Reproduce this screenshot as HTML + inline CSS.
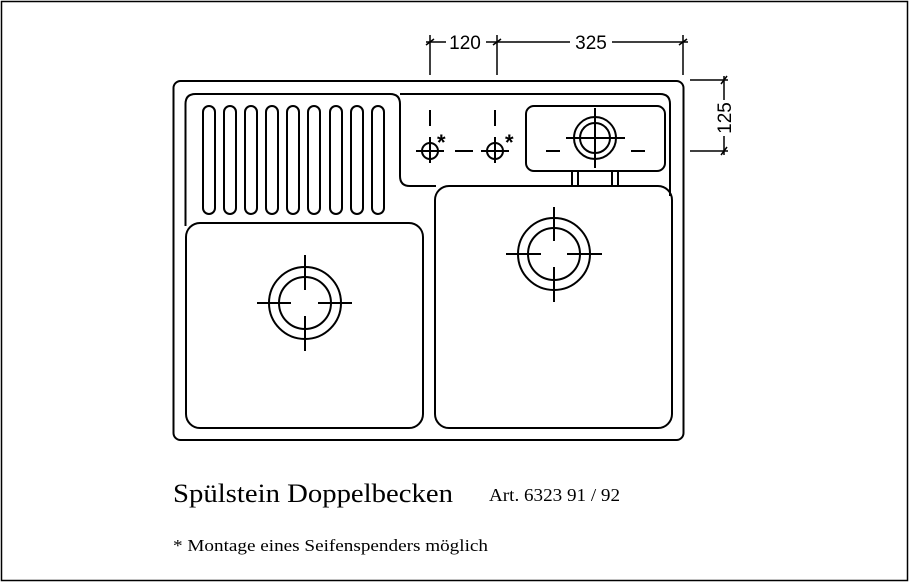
<!DOCTYPE html>
<html><head><meta charset="utf-8"><style>
html,body{margin:0;padding:0;background:#fff;}
svg{display:block;}
</style></head><body>
<svg width="910" height="583" viewBox="0 0 910 583" xmlns="http://www.w3.org/2000/svg">
<rect x="1.5" y="1.5" width="906" height="579" fill="none" stroke="#000" stroke-width="1.5"/>
<g fill="none" stroke="#000" stroke-width="2">
<rect x="173.5" y="81" width="510" height="359" rx="7"/>
<path d="M185.5,226 V104 Q185.5,94 195.5,94 H390 Q400,94 400,104 V176 Q400,186 410,186 H436"/>
<path d="M400,94 H660 Q670,94 670,104 V196"/>
<g>
<rect x="203" y="106" width="12" height="108" rx="6"/>
<rect x="224" y="106" width="12" height="108" rx="6"/>
<rect x="245" y="106" width="12" height="108" rx="6"/>
<rect x="266" y="106" width="12" height="108" rx="6"/>
<rect x="287" y="106" width="12" height="108" rx="6"/>
<rect x="308" y="106" width="12" height="108" rx="6"/>
<rect x="330" y="106" width="12" height="108" rx="6"/>
<rect x="351" y="106" width="12" height="108" rx="6"/>
<rect x="372" y="106" width="12" height="108" rx="6"/>
</g>
<rect x="186" y="223" width="237" height="205" rx="14"/>
<rect x="435" y="186" width="237" height="242" rx="14"/>
<rect x="526" y="106" width="139" height="65" rx="8"/>
<line x1="572" y1="171" x2="572" y2="186"/><line x1="578" y1="171" x2="578" y2="186"/>
<line x1="612" y1="171" x2="612" y2="186"/><line x1="618" y1="171" x2="618" y2="186"/>
<circle cx="595" cy="138" r="21"/><circle cx="595" cy="138" r="15"/>
<line x1="566" y1="138" x2="625" y2="138"/><line x1="595" y1="108" x2="595" y2="168"/>
<line x1="546" y1="151" x2="560" y2="151"/><line x1="631" y1="151" x2="645" y2="151"/>
<circle cx="430" cy="151" r="8"/>
<line x1="416" y1="151" x2="444" y2="151"/><line x1="430" y1="137" x2="430" y2="163"/>
<line x1="430" y1="110" x2="430" y2="126"/>
<circle cx="495" cy="151" r="8"/>
<line x1="481" y1="151" x2="509" y2="151"/><line x1="495" y1="137" x2="495" y2="163"/>
<line x1="495" y1="110" x2="495" y2="126"/>
<line x1="455" y1="151" x2="473" y2="151"/>
<circle cx="305" cy="303" r="36"/><circle cx="305" cy="303" r="26"/>
<line x1="257" y1="303" x2="291" y2="303"/><line x1="318" y1="303" x2="352" y2="303"/>
<line x1="305" y1="255" x2="305" y2="290"/><line x1="305" y1="316" x2="305" y2="351"/>
<circle cx="554" cy="254" r="36"/><circle cx="554" cy="254" r="26"/>
<line x1="506" y1="254" x2="541" y2="254"/><line x1="567" y1="254" x2="602" y2="254"/>
<line x1="554" y1="207" x2="554" y2="241"/><line x1="554" y1="267" x2="554" y2="302"/>
</g>
<g fill="none" stroke="#000" stroke-width="1.5">
<line x1="430" y1="35" x2="430" y2="75"/>
<line x1="497" y1="35" x2="497" y2="75"/>
<line x1="683" y1="35" x2="683" y2="75"/>
<line x1="426" y1="42" x2="446" y2="42"/>
<line x1="486" y1="42" x2="570" y2="42"/>
<line x1="612" y1="42" x2="688" y2="42"/>
<line x1="426" y1="45" x2="434" y2="39"/><line x1="493" y1="45" x2="501" y2="39"/><line x1="679" y1="45" x2="687" y2="39"/>
<line x1="690" y1="80" x2="728" y2="80"/>
<line x1="690" y1="151" x2="728" y2="151"/>
<line x1="724" y1="76" x2="724" y2="100"/>
<line x1="724" y1="136" x2="724" y2="155"/>
<line x1="721" y1="84" x2="727" y2="76"/><line x1="721" y1="155" x2="727" y2="147"/>
</g>
<g font-family="Liberation Sans, sans-serif" font-size="19" fill="#000">
<text x="465" y="49" text-anchor="middle">120</text>
<text x="591" y="49" text-anchor="middle">325</text>
<text x="731" y="118" text-anchor="middle" transform="rotate(-90 731 118)">125</text>
<text x="437" y="150" font-size="22" font-weight="bold">*</text>
<text x="505" y="150" font-size="22" font-weight="bold">*</text>
</g>
<g font-family="Liberation Serif, serif" fill="#000">
<text x="173" y="502" font-size="26" textLength="280" lengthAdjust="spacingAndGlyphs">Spülstein Doppelbecken</text>
<text x="489" y="501" font-size="18" textLength="131" lengthAdjust="spacingAndGlyphs">Art. 6323 91 / 92</text>
<text x="173" y="551" font-size="17" textLength="315" lengthAdjust="spacingAndGlyphs">* Montage eines Seifenspenders möglich</text>
</g>
</svg>
</body></html>
